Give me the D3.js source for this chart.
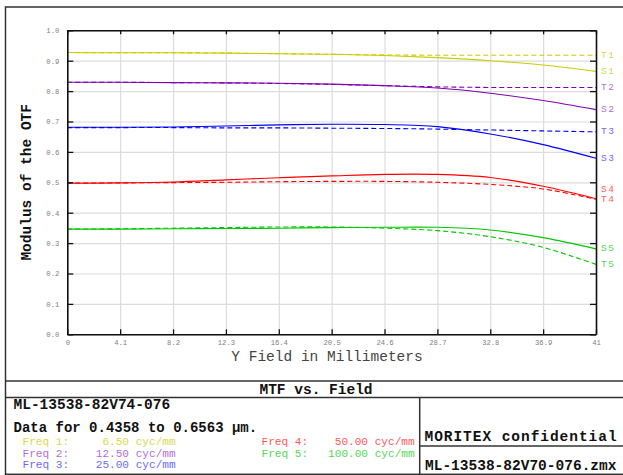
<!DOCTYPE html>
<html><head><meta charset="utf-8">
<script src="https://cdnjs.cloudflare.com/ajax/libs/d3/7.8.5/d3.min.js"></script>
<style>body{margin:0;background:#fff}svg{display:block}</style>
</head><body><script>
// ---- data ----
const fields = [0, 4.1, 8.2, 12.3, 16.4, 20.5, 24.6, 28.7, 32.8, 36.9, 41];
const xTickLabels = ["0","4.1","8.2","12.3","16.4","20.5","24.6","28.7","32.8","36.9","41"];
const yTicks = [0,0.1,0.2,0.3,0.4,0.5,0.6,0.7,0.8,0.9,1.0];
const yTickLabels = ["0.0","0.1","0.2","0.3","0.4","0.5","0.6","0.7","0.8","0.9","1.0"];

const sag1 = [0.927,0.926,0.926,0.925,0.923,0.921,0.917,0.910,0.900,0.886,0.865];
const tan1 = [0.927,0.926,0.926,0.925,0.923,0.921,0.919,0.918,0.918,0.918,0.918];
const sag2 = [0.829,0.829,0.828,0.827,0.826,0.823,0.818,0.810,0.793,0.769,0.739];
const tan2 = [0.829,0.829,0.828,0.827,0.825,0.822,0.818,0.814,0.812,0.812,0.812];
const sag3 = [0.681,0.681,0.682,0.685,0.689,0.691,0.690,0.683,0.659,0.624,0.579];
const tan3 = [0.680,0.680,0.680,0.679,0.679,0.678,0.677,0.675,0.672,0.669,0.666];
const sag4 = [0.497,0.498,0.501,0.508,0.515,0.521,0.526,0.526,0.516,0.487,0.446];
const tan4 = [0.497,0.498,0.499,0.500,0.502,0.503,0.503,0.500,0.493,0.478,0.444];
const sag5 = [0.346,0.346,0.347,0.348,0.349,0.351,0.352,0.352,0.343,0.318,0.281];
const tan5 = [0.346,0.347,0.349,0.351,0.353,0.353,0.349,0.341,0.321,0.286,0.230];

const freqNames = ["Freq 1:","Freq 2:","Freq 3:","Freq 4:","Freq 5:"];
const freqValues = ["6.50","12.50","25.00","50.00","100.00"];
const freqUnit = "cyc/mm";

// ---- styles ----
const lineColors = ["#cccc00","#8000b8","#0000ff","#ff0000","#00c800"];
const textColors = ["#d8d850","#b070d8","#6a6aff","#ff5a5a","#55d855"];

const W = 623, H = 475;
const svg = d3.select("body").append("svg").attr("width", W).attr("height", H)
  .style("font-family","'Liberation Mono','Courier New',monospace");

const x = d3.scaleLinear().domain([0, 41]).range([67.3, 596]);
const y = d3.scaleLinear().domain([0, 1]).range([334.3, 30.3]);

// grid
const grid = svg.append("g");
grid.append("g").attr("transform", `translate(0,${y(0)})`)
  .call(d3.axisBottom(x).tickValues(fields).tickSize(-(y(0)-y(1))).tickFormat(""))
  .call(g => { g.select(".domain").remove(); g.selectAll("line").attr("stroke","#dcdcdc").attr("stroke-width",1.2); });
grid.append("g").attr("transform", `translate(${x(0)},0)`)
  .call(d3.axisLeft(y).tickValues(yTicks).tickSize(-(x(41)-x(0))).tickFormat(""))
  .call(g => { g.select(".domain").remove(); g.selectAll("line").attr("stroke","#dcdcdc").attr("stroke-width",1.2); });

// series
const series = [];
[[sag1,tan1],[sag2,tan2],[sag3,tan3],[sag4,tan4],[sag5,tan5]].forEach((p,i)=>{
  series.push({name:"S"+(i+1), vals:p[0], dash:null, i});
  series.push({name:"T"+(i+1), vals:p[1], dash:"5,3", i});
});
const line = d3.line().x((d,k)=>x(fields[k])).y(d=>y(d)).curve(d3.curveCatmullRom.alpha(0.5));
series.forEach(s=>{
  svg.append("path").attr("d", line(s.vals)).attr("fill","none")
    .attr("stroke", lineColors[s.i]).attr("stroke-width",1.1)
    .attr("stroke-dasharray", s.dash);
});

// axes frame
const axStyle = g => { g.selectAll(".domain").attr("stroke","#111").attr("stroke-width",1.6);
  g.selectAll(".tick line").attr("stroke","#111").attr("stroke-width",1.3); };
svg.append("g").attr("transform", `translate(0,${y(0)})`)
  .call(d3.axisBottom(x).tickValues(fields).tickSize(-5).tickSizeOuter(0).tickPadding(6)
    .tickFormat((d,k)=>xTickLabels[k]))
  .call(axStyle)
  .call(g=>g.selectAll("text").attr("font-family","'Liberation Mono',monospace").attr("font-size",7.2).attr("fill","#808080"));
svg.append("g").attr("transform", `translate(0,${y(1)})`)
  .call(d3.axisTop(x).tickValues(fields).tickSize(-4).tickSizeOuter(0).tickFormat(""))
  .call(axStyle);
svg.append("g").attr("transform", `translate(${x(0)},0)`)
  .call(d3.axisLeft(y).tickValues(yTicks).tickSize(-6).tickSizeOuter(0).tickPadding(8)
    .tickFormat((d,k)=>yTickLabels[k]))
  .call(axStyle)
  .call(g=>g.selectAll("text").attr("font-family","'Liberation Mono',monospace").attr("font-size",7.2).attr("fill","#808080"));
svg.append("g").attr("transform", `translate(${x(41)},0)`)
  .call(d3.axisRight(y).tickValues(yTicks).tickSize(-6).tickSizeOuter(0).tickFormat(""))
  .call(axStyle);

// right-side labels
const labels = series.map(s=>({name:s.name, i:s.i, y:y(s.vals[s.vals.length-1])}))
  .sort((a,b)=>a.y-b.y);
for (let k=labels.length-2;k>=0;k--) {
  if (labels[k+1].y - labels[k].y < 10) labels[k].y = labels[k+1].y - 10;
}
labels.forEach(l=>{
  svg.append("text").attr("x",601).attr("y",l.y).attr("dominant-baseline","central")
    .attr("font-size",9.5).attr("letter-spacing",1.6).attr("fill",textColors[l.i]).text(l.name);
});

// axis titles
svg.append("text").attr("transform",`translate(27,${(y(0)+y(1))/2}) rotate(-90)`)
  .attr("text-anchor","middle").attr("dominant-baseline","central")
  .attr("font-size",14.5).attr("font-weight","bold").attr("fill","#111").text("Modulus of the OTF");
svg.append("text").attr("x",327).attr("y",357).attr("text-anchor","middle").attr("dominant-baseline","central")
  .attr("font-size",14.5).attr("fill","#444").text("Y Field in Millimeters");

// frame and info boxes
const fr = svg.append("g").attr("stroke","#333").attr("stroke-width",1.5).attr("fill","none");
fr.append("rect").attr("x",5.5).attr("y",7).attr("width",640).attr("height",467.3);
fr.append("line").attr("x1",5.5).attr("x2",630).attr("y1",381).attr("y2",381);
fr.append("line").attr("x1",5.5).attr("x2",630).attr("y1",397.5).attr("y2",397.5);
fr.append("line").attr("x1",419.7).attr("x2",419.7).attr("y1",397.5).attr("y2",474.3);
fr.append("line").attr("x1",419.7).attr("x2",630).attr("y1",446).attr("y2",446);

const bold = (t,xx,yy,anchor,size,extra)=>{
  const e = svg.append("text").attr("x",xx).attr("y",yy).attr("dominant-baseline","central")
    .attr("text-anchor",anchor||"start").attr("font-size",size||14.5).attr("font-weight","bold")
    .attr("fill","#111").text(t);
  if (extra) extra(e);
  return e;
};
bold("MTF vs. Field",316,389.5,"middle");
bold("ML-13538-82V74-076",13.5,405);
bold("Data for 0.4358 to 0.6563 \u00b5m.",13.5,427.5,"start",14);
bold("MORITEX confidential",424.5,436.5,"start",14.5,e=>e.attr("letter-spacing",0.95));
bold("ML-13538-82V70-076.zmx",425,466);

const pad = (s,n)=>{ while (s.length<n) s=" "+s; return s; };
freqNames.forEach((nm,k)=>{
  const col = k<3 ? 0 : 1;
  const row = k<3 ? k : k-3;
  svg.append("text").attr("x", col===0 ? 22.5 : 261.5).attr("y", 442 + row*11.5)
    .attr("dominant-baseline","central").attr("font-size",11.1)
    .attr("fill",textColors[k]).style("white-space","pre")
    .text(nm + pad(freqValues[k],9) + " " + freqUnit);
});
</script></body></html>
